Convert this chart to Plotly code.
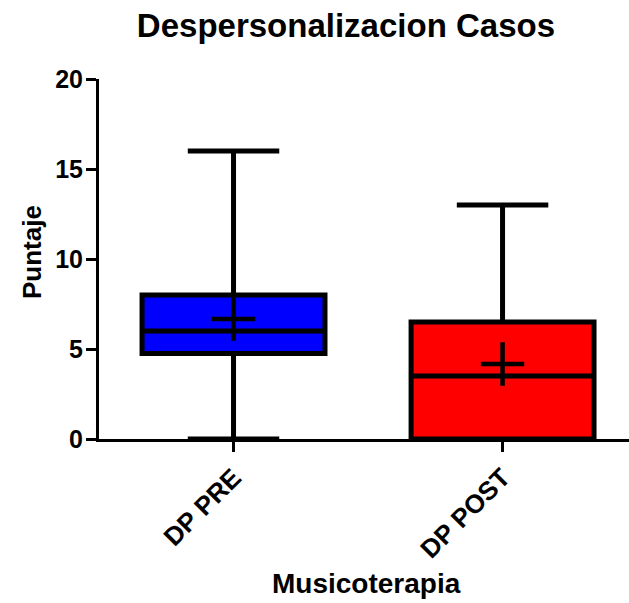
import plotly.graph_objects as go

# Despersonalizacion scores, pre/post music therapy (min-max whiskers)
categories = ["DP PRE", "DP POST"]
minimum = [0, 0]
q1 = [4.75, 0]
median = [6, 3.5]
q3 = [8, 6.5]
maximum = [16, 13]
mean = [6.67, 4.17]
colors = ["#0000FF", "#FF0000"]

FONT = "Liberation Sans, Arial, sans-serif"

fig = go.Figure()
for i, cat in enumerate(categories):
    fig.add_trace(go.Box(
        x=[cat],
        q1=[q1[i]], median=[median[i]], q3=[q3[i]],
        lowerfence=[minimum[i]], upperfence=[maximum[i]],
        fillcolor=colors[i],
        line=dict(color="black", width=5),
        width=0.68,
        whiskerwidth=0.5,
        boxpoints=False,
        showlegend=False,
        hoverinfo="skip",
    ))

# Mean shown as a "+"
fig.add_trace(go.Scatter(
    x=categories, y=mean, mode="markers",
    marker=dict(symbol="cross-thin", size=31,
                line=dict(color="black", width=4.5)),
    showlegend=False, hoverinfo="skip",
))

fig.update_layout(
    width=629, height=603,
    margin=dict(l=99, r=0, t=79, b=164),
    plot_bgcolor="white", paper_bgcolor="white",
    boxmode="overlay",
    font=dict(family=FONT, color="black"),
    title=dict(text="<b>Despersonalizacion Casos</b>",
               font=dict(size=33, family=FONT, color="black"),
               x=0.55, xanchor="center", xref="container",
               y=1 - 25 / 603, yanchor="middle", yref="container"),
    xaxis=dict(
        type="category",
        range=[-0.5, 1.47],
        showline=True, linecolor="black", linewidth=3,
        ticks="outside", ticklen=10, tickwidth=3, tickcolor="black",
        tickangle=-45,
        tickfont=dict(size=26, family=FONT, color="black", weight="bold"),
        showgrid=False, zeroline=False,
    ),
    yaxis=dict(
        range=[0, 20],
        tickvals=[0, 5, 10, 15, 20],
        showline=True, linecolor="black", linewidth=3,
        ticks="outside", ticklen=10, tickwidth=3, tickcolor="black",
        ticklabelstandoff=-2,
        tickfont=dict(size=25, family=FONT, color="black", weight="bold"),
        showgrid=False, zeroline=False,
    ),
    annotations=[
        dict(text="<b>Puntaje</b>", textangle=-90,
             xref="paper", yref="paper", x=(32 - 99) / 530, y=(440 - 253) / 360,
             xanchor="center", yanchor="middle", showarrow=False,
             font=dict(size=26, family=FONT, color="black")),
        dict(text="<b>Musicoterapia</b>",
             xref="paper", yref="paper", x=(366 - 99) / 530, y=(440 - 584) / 360,
             xanchor="center", yanchor="middle", showarrow=False,
             font=dict(size=28, family=FONT, color="black")),
    ],
)

fig.write_html("out.html")
